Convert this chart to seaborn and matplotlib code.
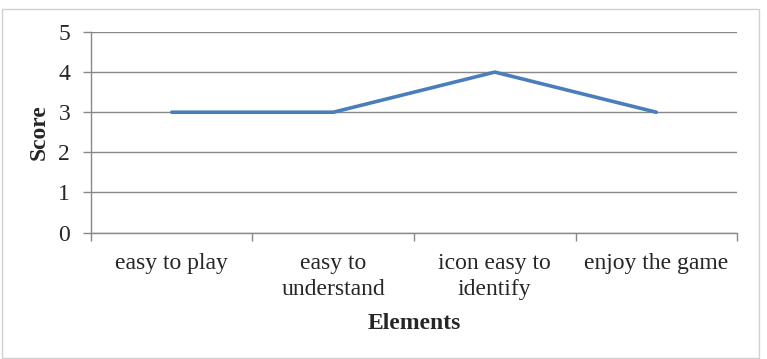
import numpy as np
import pandas as pd
import matplotlib
matplotlib.use("Agg")
import matplotlib.pyplot as plt
import seaborn as sns
from matplotlib.patches import Rectangle
from matplotlib.ticker import FixedLocator

elements = ["easy to play", "easy to\nunderstand", "icon easy to\nidentify", "enjoy the game"]
scores = [3, 3, 4, 3]

df = pd.DataFrame({"Elements": elements, "Score": scores})

sns.set_style("white")
plt.rcParams["font.family"] = ["Liberation Serif", "DejaVu Serif"]

fig = plt.figure(figsize=(7.67, 3.59), dpi=100)
ax = fig.add_axes([0.1186, 0.352, 0.961 - 0.1186, 0.911 - 0.352])

sns.lineplot(data=df, x="Elements", y="Score", sort=False, color="#4A7EBB",
             linewidth=2.6, ax=ax)

grid_col = "#888888"
fs = 17
ax.set_ylim(0, 5)
ax.set_yticks(range(0, 6))
ax.set_xlim(-0.5, len(elements) - 0.5)
ax.set_xticks(range(len(elements)))
ax.set_xticklabels(elements)
ax.xaxis.set_minor_locator(FixedLocator(np.arange(-0.5, len(elements), 1.0)))
ax.yaxis.grid(True, color=grid_col, linewidth=1.0)
ax.set_axisbelow(True)

for side in ["top", "right"]:
    ax.spines[side].set_visible(False)
for side in ["left", "bottom"]:
    ax.spines[side].set_color(grid_col)
    ax.spines[side].set_linewidth(1.0)

ax.tick_params(axis="y", which="major", length=6, width=1.0, color=grid_col,
               labelsize=fs, pad=9, direction="out", left=True)
ax.tick_params(axis="x", which="major", length=0, labelsize=fs, pad=15)
ax.tick_params(axis="x", which="minor", length=6, width=1.0, color=grid_col,
               direction="out", bottom=True)
for lbl in ax.get_xticklabels():
    lbl.set_linespacing(1.3)

ax.set_xlabel("Elements", fontsize=fs, fontweight="bold", labelpad=9)
ax.set_ylabel("Score", fontsize=fs, fontweight="bold", labelpad=6)

fig.patches.append(Rectangle((2 / 767, 1 / 359), 757 / 767, 349 / 359,
                             transform=fig.transFigure, fill=False,
                             edgecolor="#D0D0D0", linewidth=1.0))

fig.savefig("out.png", dpi=100)
